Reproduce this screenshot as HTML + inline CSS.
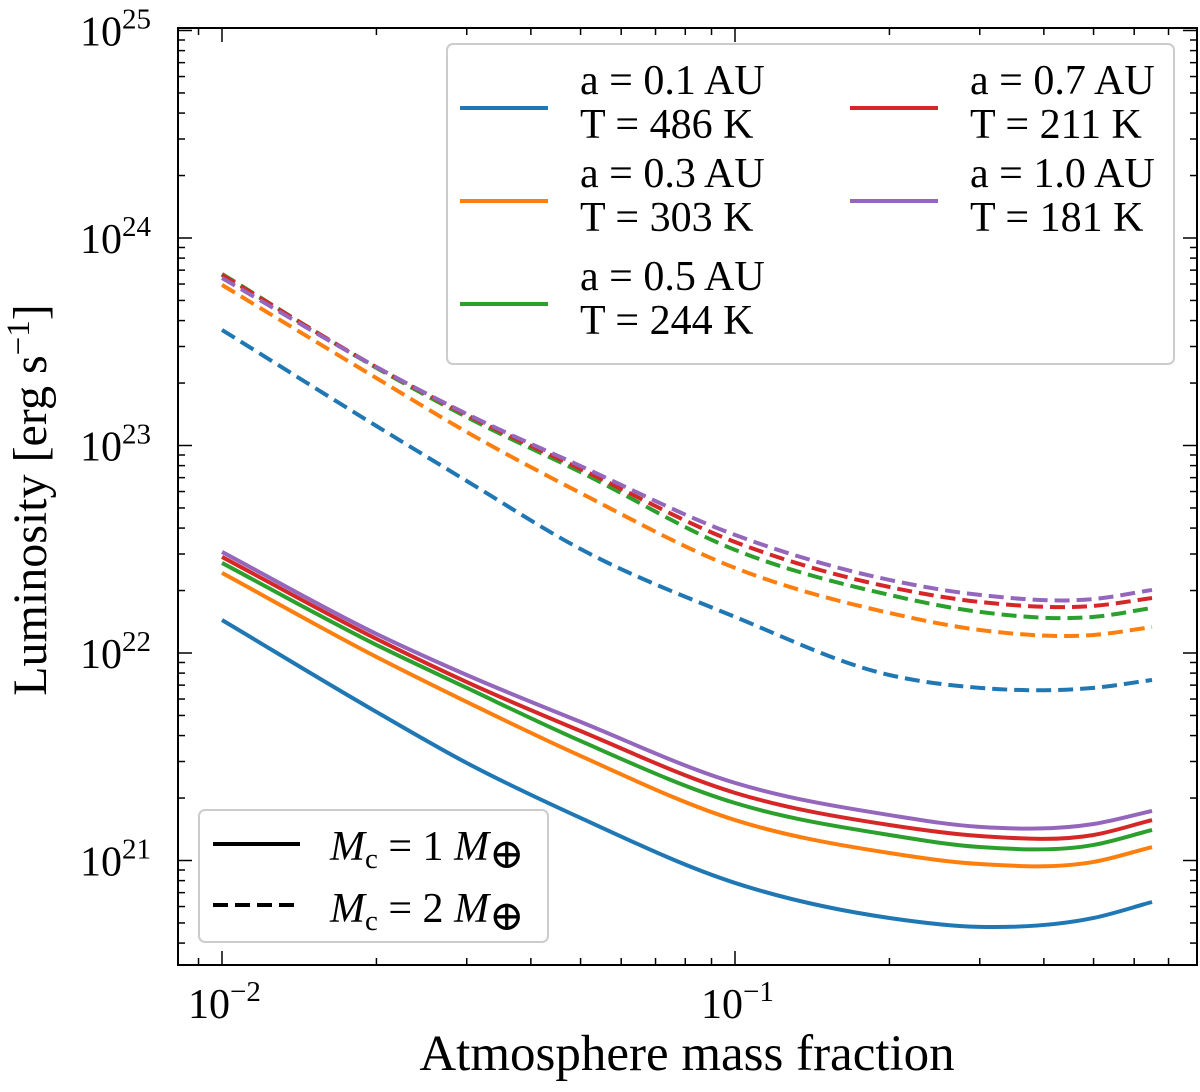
<!DOCTYPE html>
<html><head><meta charset="utf-8"><style>
body{margin:0;background:#fff}
svg text{font-family:"Liberation Serif","DejaVu Serif",serif;fill:#000}
</style></head><body>
<svg id="chart" width="1200" height="1087" xmlns="http://www.w3.org/2000/svg">
<g id="marks"></g><g id="axes"></g><g id="legends"></g>
</svg>
<script>
const xValues=[0.01,0.02,0.03,0.05,0.1,0.2,0.3,0.5,0.65];
const seriesNames=["a = 0.1 AU","a = 0.3 AU","a = 0.5 AU","a = 0.7 AU","a = 1.0 AU"];
const seriesTemps=["T = 486 K","T = 303 K","T = 244 K","T = 211 K","T = 181 K"];
const colors=["#1f77b4","#ff7f0e","#2ca02c","#d62728","#9467bd"];
// log10 luminosity, core mass 1 M_earth (solid)
const solid1=[
[22.159,21.716,21.470,21.205,20.892,20.723,20.680,20.723,20.800],
[22.386,21.981,21.764,21.504,21.195,21.036,20.983,20.993,21.065],
[22.434,22.039,21.832,21.576,21.277,21.123,21.065,21.075,21.147],
[22.463,22.068,21.860,21.624,21.326,21.171,21.118,21.123,21.195],
[22.487,22.092,21.894,21.668,21.374,21.219,21.162,21.176,21.239]];
// log10 luminosity, core mass 2 M_earth (dashed)
const dashed2=[
[23.557,23.094,22.829,22.501,22.174,21.894,21.832,21.832,21.870],
[23.774,23.325,23.065,22.771,22.410,22.193,22.111,22.087,22.125],
[23.827,23.374,23.137,22.872,22.497,22.280,22.198,22.174,22.217],
[23.822,23.378,23.147,22.887,22.535,22.318,22.246,22.227,22.265],
[23.807,23.378,23.152,22.901,22.569,22.352,22.280,22.260,22.304]];
const xTicks=[0.01,0.1];const xTickLabels=["−2","−1"];
const yTicks=[21,22,23,24,25];const yTickLabels=["21","22","23","24","25"];

const L=178,R=1197,T=28,B=965;
const lx0=Math.log10(0.01), lx1=Math.log10(0.1);
const X=v=>222+(Math.log10(v)-lx0)*(735-222)/(lx1-lx0);
const Y=l=>653+(22-l)*207.5;
const NS="http://www.w3.org/2000/svg";
function el(t,a,p){const e=document.createElementNS(NS,t);for(const k in a)e.setAttribute(k,a[k]);p.appendChild(e);return e;}
function pathFor(ys){
  const p=xValues.map((x,i)=>[X(x),Y(ys[i])]);const n=p.length;const m=[];
  for(let i=0;i<n;i++){
    if(i==0){m.push((p[1][1]-p[0][1])/(p[1][0]-p[0][0]));continue;}
    if(i==n-1){m.push((p[i][1]-p[i-1][1])/(p[i][0]-p[i-1][0]));continue;}
    const h0=p[i][0]-p[i-1][0],h1=p[i+1][0]-p[i][0];
    const d0=(p[i][1]-p[i-1][1])/h0,d1=(p[i+1][1]-p[i][1])/h1;
    m.push((d0*h1+d1*h0)/(h0+h1));
  }
  let d="M"+p[0][0]+","+p[0][1];
  for(let i=0;i<n-1;i++){const h=p[i+1][0]-p[i][0];
    d+=" C"+(p[i][0]+h/3)+","+(p[i][1]+m[i]*h/3)+" "+(p[i+1][0]-h/3)+","+(p[i+1][1]-m[i+1]*h/3)+" "+p[i+1][0]+","+p[i+1][1];}
  return d;}
const marks=document.getElementById("marks");
solid1.forEach((s,i)=>{const e=el("path",{d:pathFor(s),fill:"none",stroke:colors[i],"stroke-width":4},marks);

});
dashed2.forEach((s,i)=>{const e=el("path",{d:pathFor(s),fill:"none",stroke:colors[i],"stroke-width":4,"stroke-dasharray":"15,7"},marks);

});
const ax=document.getElementById("axes");
el("rect",{x:L,y:T,width:R-L,height:B-T,fill:"none",stroke:"#000","stroke-width":2},ax);
for(let d=-3;d<=0;d++)for(let m=1;m<10;m++){const v=m*Math.pow(10,d);const px=X(v);if(px<L+1||px>R-1)continue;
const len=m==1?14:7;el("line",{x1:px,y1:B,x2:px,y2:B-len,stroke:"#000","stroke-width":1.5},ax);el("line",{x1:px,y1:T,x2:px,y2:T+len,stroke:"#000","stroke-width":1.5},ax);}
for(let d=20;d<=25;d++)for(let m=1;m<10;m++){const l=d+Math.log10(m);const py=Y(l);if(py<T+1||py>B-1)continue;
const len=m==1?14:7;el("line",{x1:L,y1:py,x2:L+len,y2:py,stroke:"#000","stroke-width":1.5},ax);el("line",{x1:R,y1:py,x2:R-len,y2:py,stroke:"#000","stroke-width":1.5},ax);}
xTicks.forEach((v,i)=>{const t=el("text",{x:X(v)-34,y:1018,"font-size":42},ax);t.innerHTML='10<tspan dy="-17" font-size="29">'+xTickLabels[i]+'</tspan>';

});
yTicks.forEach((v,i)=>{const t=el("text",{x:80,y:Y(v)+15,"font-size":42},ax);t.innerHTML='10<tspan dy="-17" font-size="29">'+yTickLabels[i]+'</tspan>';

});
const xl=el("text",{x:687,y:1070,"font-size":51,"text-anchor":"middle"},ax);xl.textContent="Atmosphere mass fraction";


const yl=el("text",{x:0,y:0,"font-size":48,"text-anchor":"middle",transform:"translate(46,500) rotate(-90)"},ax);yl.innerHTML='Luminosity [erg s<tspan dy="-17" font-size="33">−1</tspan><tspan dy="17">]</tspan>';


const lg=document.getElementById("legends");
const box=el("rect",{x:447,y:44,width:727,height:320,rx:6,fill:"#fff","fill-opacity":0.85,stroke:"#ccc","stroke-width":2},lg);


const pos=[[460,580,112],[460,580,205],[460,580,308],[850,970,112],[850,970,205]];
[0,1,2,3,4].forEach((k,i)=>{const [lx,tx,cy]=pos[i];
const ln=el("line",{x1:lx,y1:cy-4,x2:lx+88,y2:cy-4,stroke:colors[k],"stroke-width":4},lg);


const t1=el("text",{x:tx,y:cy-18,"font-size":42},lg);t1.textContent=seriesNames[k];


const t2=el("text",{x:tx,y:cy+26,"font-size":42},lg);t2.textContent=seriesTemps[k];

});
const box2=el("rect",{x:199,y:810,width:349,height:132,rx:6,fill:"#fff","fill-opacity":0.85,stroke:"#ccc","stroke-width":2},lg);


const s1=el("line",{x1:213,y1:844,x2:300,y2:844,stroke:"#000","stroke-width":4},lg);


const s2=el("line",{x1:213,y1:905,x2:300,y2:905,stroke:"#000","stroke-width":4,"stroke-dasharray":"15,7"},lg);


const m1=el("text",{x:330,y:860,"font-size":42},lg);m1.innerHTML='<tspan font-style="italic">M</tspan><tspan font-size="29" dy="8">c</tspan><tspan dy="-8"> = 1 </tspan><tspan font-style="italic">M</tspan><tspan dy="8">⊕</tspan>';


const m2=el("text",{x:330,y:922,"font-size":42},lg);m2.innerHTML='<tspan font-style="italic">M</tspan><tspan font-size="29" dy="8">c</tspan><tspan dy="-8"> = 2 </tspan><tspan font-style="italic">M</tspan><tspan dy="8">⊕</tspan>';


</script>
</body></html>
